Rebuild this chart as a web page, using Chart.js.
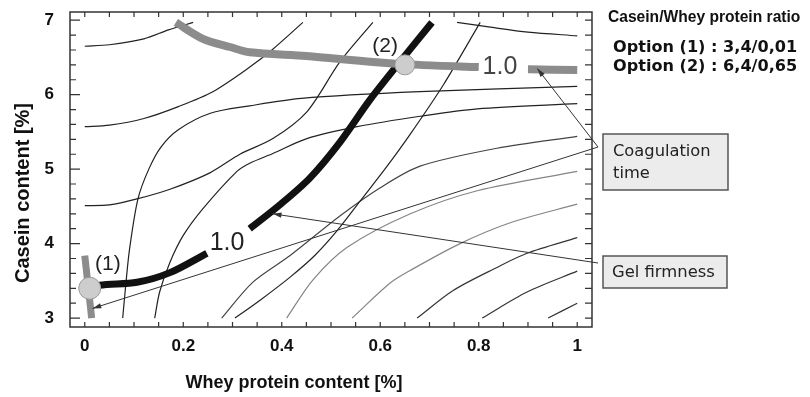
<!DOCTYPE html>
<html>
<head>
<meta charset="utf-8">
<script src="https://cdn.jsdelivr.net/npm/chart.js@4.4.1/dist/chart.umd.min.js"></script>
<style>
  html, body { margin: 0; padding: 0; background: #fff; }
  #wrap { width: 810px; height: 397px; }
</style>
</head>
<body>
<div id="wrap"><canvas id="chart" width="810" height="397"></canvas></div>
<script>
// axis ticks
const xTicks = [0, 0.2, 0.4, 0.6, 0.8, 1];
const xTickLabels = ['0', '0.2', '0.4', '0.6', '0.8', '1'];
const yTicks = [3, 4, 5, 6, 7];
const yTickLabels = ['3', '4', '5', '6', '7'];

// thin contour lines, points are [whey protein %, casein %]
const contourA1 = [[0, 6.65], [0.05, 6.67], [0.12, 6.75], [0.17, 6.87], [0.22, 6.97]];
const contourA2 = [[0.756, 6.97], [0.82, 6.91], [0.9, 6.84], [1.0, 6.79]];
const contourA3 = [[0, 5.57], [0.05, 5.59], [0.12, 5.68], [0.19, 5.84], [0.26, 6.04], [0.335, 6.37], [0.38, 6.6], [0.443, 6.97]];
const contourA4 = [[0.077, 3.0], [0.084, 3.5], [0.091, 3.93], [0.108, 4.6], [0.13, 5.0], [0.155, 5.3], [0.19, 5.53], [0.255, 5.75], [0.335, 5.85], [0.44, 5.95], [0.68, 6.04], [1.0, 6.11]];
const contourA5 = [[0, 4.51], [0.05, 4.52], [0.106, 4.6], [0.173, 4.73], [0.254, 4.95], [0.315, 5.2], [0.382, 5.41], [0.451, 5.77], [0.518, 6.44], [0.585, 6.97]];
const contourB1 = [[0.142, 3.0], [0.152, 3.35], [0.173, 3.75], [0.2, 4.11], [0.24, 4.47], [0.309, 4.97], [0.335, 5.08], [0.382, 5.21], [0.451, 5.41], [0.553, 5.57], [0.681, 5.71], [0.797, 5.81], [1.0, 5.88]];
const contourJ = [[0.305, 3.0], [0.356, 3.24], [0.417, 3.55], [0.467, 3.84], [0.512, 4.17], [0.559, 4.57], [0.614, 5.04], [0.661, 5.47], [0.728, 6.13], [0.803, 6.97]];
const contourK = [[0.278, 3.0], [0.341, 3.48], [0.417, 3.84], [0.518, 4.37], [0.6, 4.75], [0.681, 5.04], [0.837, 5.28], [1.0, 5.44]];
const contourG1 = [[0.41, 3.0], [0.463, 3.51], [0.533, 3.95], [0.661, 4.4], [0.797, 4.71], [1.0, 4.97]];
const contourG2 = [[0.543, 3.0], [0.62, 3.47], [0.661, 3.64], [0.762, 4.0], [0.864, 4.28], [1.0, 4.53]];
const contourG3 = [[0.675, 3.0], [0.748, 3.37], [0.837, 3.68], [0.898, 3.87], [1.0, 4.08]];
const contourG4 = [[0.807, 3.0], [0.898, 3.35], [1.0, 3.63]];
const contourG5 = [[0.941, 3.0], [1.0, 3.2]];

// coagulation time = 1.0 (thick grey), gap left for its label
const coagLeft = [[0.185, 6.97], [0.24, 6.75], [0.295, 6.64], [0.335, 6.57], [0.45, 6.52], [0.585, 6.44], [0.68, 6.4], [0.8, 6.37]];
const coagRight = [[0.9, 6.34], [1.0, 6.33]];
const coagOption1 = [[0.0, 3.84], [0.014, 3.0]];

// gel firmness = 1.0 (thick black)
const gelLower = [[0.012, 3.39], [0.03, 3.44], [0.106, 3.48], [0.173, 3.61], [0.248, 3.87]];
const gelUpper = [[0.335, 4.2], [0.396, 4.52], [0.457, 4.88], [0.518, 5.36], [0.579, 5.93], [0.64, 6.44], [0.705, 6.97]];

// chosen options
const optionPoints = [[0.01, 3.4], [0.65, 6.4]];
const optionNames = ['(1)', '(2)'];
const optionLabelAt = [[0.047, 3.72], [0.61, 6.65]];

// contour value labels
const gelLabelAt = [0.289, 4.01];
const coagLabelAt = [0.843, 6.37];

// where the annotation arrows point
const coagArrowTips = [[0.919, 6.35], [0.016, 3.13]];
const gelArrowTip = [0.382, 4.4];

const toXY = pts => pts.map(p => ({ x: p[0], y: p[1] }));

function thin(data, color) {
  return {
    data: toXY(data), showLine: true, pointRadius: 0, borderColor: color,
    borderWidth: 1.2, tension: 0.3, order: 5
  };
}
function thick(data, color, w) {
  return {
    data: toXY(data), showLine: true, pointRadius: 0, borderColor: color,
    borderWidth: w, tension: 0.3, borderCapStyle: 'butt', order: 2
  };
}

const datasets = [
  thin(contourA1, '#222'),
  thin(contourA2, '#222'),
  thin(contourA3, '#222'),
  thin(contourA4, '#222'),
  thin(contourA5, '#222'),
  thin(contourB1, '#222'),
  thin(contourJ, '#222'),
  thin(contourK, '#444'),
  thin(contourG1, '#858585'),
  thin(contourG2, '#858585'),
  thin(contourG3, '#333'),
  thin(contourG4, '#333'),
  thin(contourG5, '#333'),
  thick(coagLeft, '#8c8c8c', 8),
  thick(coagRight, '#8c8c8c', 8),
  thick(coagOption1, '#8c8c8c', 7),
  thick(gelLower, '#111', 7),
  thick(gelUpper, '#111', 7),
  {
    data: toXY(optionPoints), showLine: false, pointRadius: [11, 10],
    backgroundColor: '#cdcdcd', borderColor: '#9a9a9a', borderWidth: 1, order: 0
  }
];

function fitText(ctx, text, weight, family, width, x, y) {
  ctx.font = `${weight} 20px ${family}`;
  const size = 20 * width / ctx.measureText(text).width;
  ctx.font = `${weight} ${size.toFixed(1)}px ${family}`;
  ctx.fillText(text, x, y);
  return size;
}

function arrow(ctx, x0, y0, x1, y1) {
  ctx.beginPath();
  ctx.moveTo(x0, y0);
  ctx.lineTo(x1, y1);
  ctx.stroke();
  const ang = Math.atan2(y1 - y0, x1 - x0);
  ctx.beginPath();
  ctx.moveTo(x1, y1);
  ctx.lineTo(x1 - 9 * Math.cos(ang - 0.3), y1 - 9 * Math.sin(ang - 0.3));
  ctx.lineTo(x1 - 9 * Math.cos(ang + 0.3), y1 - 9 * Math.sin(ang + 0.3));
  ctx.closePath();
  ctx.fill();
}

const decor = {
  id: 'decor',
  afterDatasetsDraw(chart) {
    const { ctx, chartArea: a, scales: { x, y } } = chart;
    ctx.save();

    // frame and inward ticks
    ctx.strokeStyle = '#333';
    ctx.lineWidth = 1.5;
    ctx.strokeRect(a.left, a.top, a.right - a.left, a.bottom - a.top);
    ctx.lineWidth = 1.2;
    ctx.beginPath();
    for (let i = 0; i <= 20; i++) {
      const px = x.getPixelForValue(i * 0.05);
      ctx.moveTo(px, a.bottom); ctx.lineTo(px, a.bottom - 5);
      ctx.moveTo(px, a.top); ctx.lineTo(px, a.top + 5);
    }
    for (let i = 0; i <= 20; i++) {
      const py = y.getPixelForValue(3 + i * 0.2);
      const len = i % 5 === 0 ? 10 : 6;
      ctx.moveTo(a.left, py); ctx.lineTo(a.left + len, py);
      ctx.moveTo(a.right, py); ctx.lineTo(a.right - 7, py);
    }
    ctx.stroke();

    // contour value labels and option names
    ctx.textAlign = 'center';
    ctx.textBaseline = 'middle';
    ctx.font = '25px "Liberation Sans", Arial, sans-serif';
    ctx.fillStyle = '#222';
    ctx.fillText('1.0', x.getPixelForValue(gelLabelAt[0]), y.getPixelForValue(gelLabelAt[1]));
    ctx.fillStyle = '#444';
    ctx.fillText('1.0', x.getPixelForValue(coagLabelAt[0]), y.getPixelForValue(coagLabelAt[1]));
    ctx.fillStyle = '#222';
    ctx.font = '21px "Liberation Sans", Arial, sans-serif';
    optionNames.forEach((t, i) => {
      ctx.fillText(t, x.getPixelForValue(optionLabelAt[i][0]), y.getPixelForValue(optionLabelAt[i][1]));
    });

    // axis titles
    ctx.fillStyle = '#111';
    ctx.font = 'bold 18px "Liberation Sans", Arial, sans-serif';
    ctx.fillText('Whey protein content [%]', 294, 383);
    ctx.save();
    ctx.translate(23, 193);
    ctx.rotate(-Math.PI / 2);
    ctx.font = 'bold 20px "Liberation Sans", Arial, sans-serif';
    ctx.fillText('Casein content [%]', 0, 0);
    ctx.restore();

    // side notes
    ctx.textAlign = 'left';
    fitText(ctx, 'Casein/Whey protein ratio', 'bold', '"Liberation Sans", Arial, sans-serif', 192, 608, 18);
    fitText(ctx, 'Option (1) : 3,4/0,01', 'bold', '"DejaVu Sans", Verdana, sans-serif', 184, 613, 48);
    fitText(ctx, 'Option (2) : 6,4/0,65', 'bold', '"DejaVu Sans", Verdana, sans-serif', 184, 613, 67);

    // annotation boxes
    ctx.fillStyle = '#ececec';
    ctx.strokeStyle = '#555';
    ctx.lineWidth = 1.5;
    ctx.fillRect(603, 134, 125, 56);
    ctx.strokeRect(603, 134, 125, 56);
    ctx.fillRect(603, 256, 124, 32);
    ctx.strokeRect(603, 256, 124, 32);
    ctx.fillStyle = '#222';
    const boxFont = '"DejaVu Sans", Verdana, sans-serif';
    const size = fitText(ctx, 'Coagulation', 'normal', boxFont, 98, 613, 152);
    ctx.font = `normal ${size.toFixed(1)}px ${boxFont}`;
    ctx.fillText('time', 613, 174);
    fitText(ctx, 'Gel firmness', 'normal', boxFont, 103, 612, 273);

    // arrows
    ctx.strokeStyle = '#333';
    ctx.fillStyle = '#333';
    ctx.lineWidth = 1;
    coagArrowTips.forEach(t => arrow(ctx, 598, 147, x.getPixelForValue(t[0]), y.getPixelForValue(t[1])));
    arrow(ctx, 598, 263, x.getPixelForValue(gelArrowTip[0]), y.getPixelForValue(gelArrowTip[1]));

    ctx.restore();
  }
};

new Chart(document.getElementById('chart'), {
  type: 'scatter',
  data: { datasets },
  options: {
    responsive: false,
    animation: false,
    devicePixelRatio: 1,
    layout: { padding: { top: 12, right: 218, left: 0, bottom: 0 } },
    plugins: { legend: { display: false }, tooltip: { enabled: false } },
    scales: {
      x: {
        type: 'linear', min: -0.03, max: 1.03,
        grid: { display: false, drawTicks: false },
        border: { display: false },
        afterFit: s => { s.height = 70; s.paddingLeft = 0; s.paddingRight = 0; },
        afterBuildTicks: s => { s.ticks = xTicks.map(v => ({ value: v })); },
        ticks: {
          padding: 9, color: '#111',
          font: { family: '"Liberation Sans", Arial, sans-serif', size: 17, weight: 'bold' },
          callback: (v, i) => xTickLabels[i]
        }
      },
      y: {
        type: 'linear', min: 2.88, max: 7.11,
        grid: { display: false, drawTicks: false },
        border: { display: false },
        afterFit: s => { s.width = 70; s.paddingTop = 0; s.paddingBottom = 0; },
        afterBuildTicks: s => { s.ticks = yTicks.map(v => ({ value: v })); },
        ticks: {
          padding: 16, color: '#111',
          font: { family: '"Liberation Sans", Arial, sans-serif', size: 17, weight: 'bold' },
          callback: (v, i) => yTickLabels[i]
        }
      }
    }
  },
  plugins: [decor]
});
</script>
</body>
</html>
